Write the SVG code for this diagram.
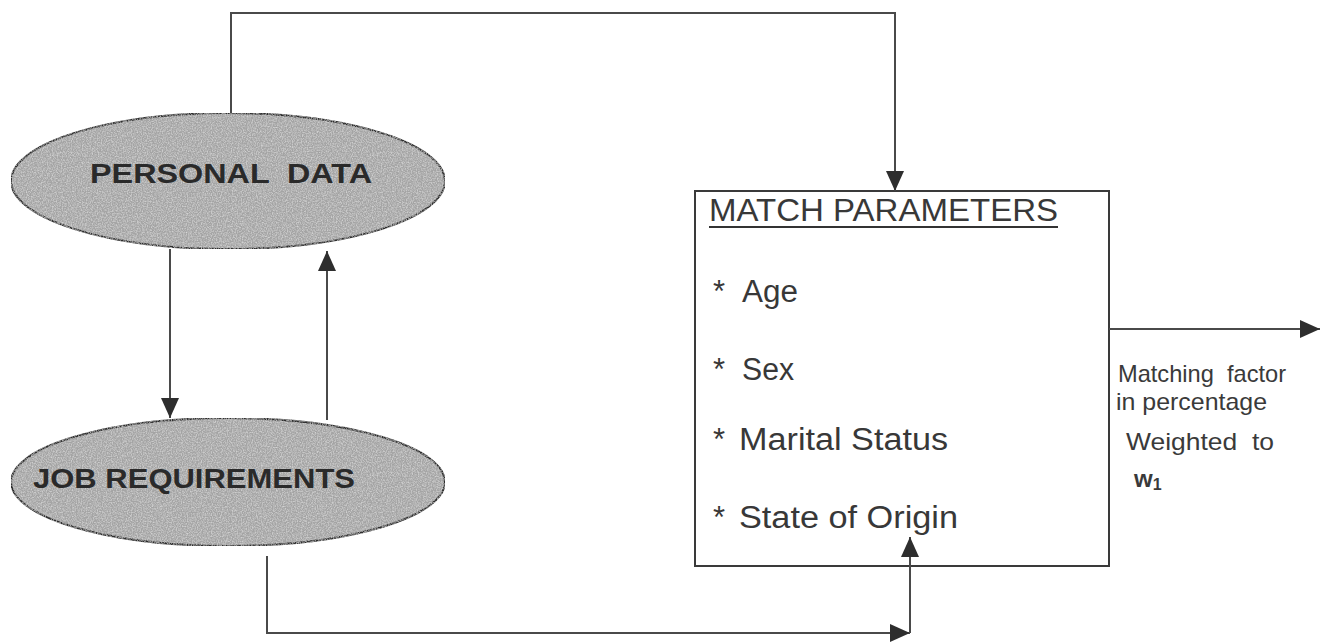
<svg xmlns="http://www.w3.org/2000/svg" width="1321" height="643" viewBox="0 0 1321 643">
  <defs>
    <marker id="arrowBig" viewBox="0 0 10 10" refX="10" refY="5" markerWidth="20" markerHeight="18" markerUnits="userSpaceOnUse" orient="auto" preserveAspectRatio="none">
      <path d="M0,0 L10,5 L0,10 Z" fill="#2e2e2e"/>
    </marker>
    <filter id="grain" x="0" y="0" width="1" height="1">
      <feTurbulence type="fractalNoise" baseFrequency="0.8" numOctaves="2" seed="3" result="n"/>
      <feColorMatrix in="n" type="matrix" values="0 0 0 0 0.85  0 0 0 0 0.85  0 0 0 0 0.85  1.2 0 0 0 -0.45" result="g"/>
      <feComposite in="g" in2="SourceGraphic" operator="in" result="gi"/>
      <feMerge><feMergeNode in="SourceGraphic"/><feMergeNode in="gi"/></feMerge>
    </filter>
    <style>
      .oval { fill: #a4a4a4; stroke: #2f2f2f; stroke-width: 2; }
      .oval-label { font-family: "Liberation Sans", Arial, sans-serif; font-weight: bold; font-size: 27px; fill: #2a2a2a; }
      .box { fill: #ffffff; stroke: #3a3a3a; stroke-width: 2; }
      .item { font-family: "Liberation Sans", Arial, sans-serif; font-size: 31px; fill: #383838; }
      .note { font-family: "Liberation Sans", Arial, sans-serif; font-size: 24px; fill: #3a3a3a; }
      .wire { fill: none; stroke: #4a4a4a; stroke-width: 2; }
    </style>
  </defs>

  <rect width="1321" height="643" fill="#ffffff"/>

  <!-- personal data node -->
  <g id="personal-data">
    <ellipse class="oval" cx="228" cy="181" rx="217" ry="68" filter="url(#grain)"/>
    <text class="oval-label" x="90" y="183" textLength="282" lengthAdjust="spacingAndGlyphs" xml:space="preserve">PERSONAL  DATA</text>
  </g>

  <!-- job requirements node -->
  <g id="job-requirements">
    <ellipse class="oval" cx="228" cy="482" rx="217" ry="64" filter="url(#grain)"/>
    <text class="oval-label" x="33" y="488" textLength="322" lengthAdjust="spacingAndGlyphs">JOB REQUIREMENTS</text>
  </g>

  <!-- match parameters node -->
  <g id="match-parameters">
    <rect class="box" x="695" y="191" width="414" height="375"/>
    <text class="item" x="709" y="221" font-size="26" textLength="349" lengthAdjust="spacingAndGlyphs">MATCH PARAMETERS</text>
    <line x1="709" y1="227" x2="1058" y2="227" stroke="#333333" stroke-width="2"/>
    <text class="item" x="713" y="302">* <tspan x="742" textLength="56" lengthAdjust="spacingAndGlyphs">Age</tspan></text>
    <text class="item" x="713" y="380">* <tspan x="742" textLength="52" lengthAdjust="spacingAndGlyphs">Sex</tspan></text>
    <text class="item" x="713" y="450">* <tspan x="739" textLength="209" lengthAdjust="spacingAndGlyphs">Marital Status</tspan></text>
    <text class="item" x="713" y="528">* <tspan x="739" textLength="219" lengthAdjust="spacingAndGlyphs">State of Origin</tspan></text>
  </g>

  <!-- output label -->
  <g id="output-label">
    <text class="note" x="1118" y="382" textLength="168" lengthAdjust="spacingAndGlyphs" xml:space="preserve">Matching  factor</text>
    <text class="note" x="1116" y="410" textLength="151" lengthAdjust="spacingAndGlyphs">in percentage</text>
    <text class="note" x="1126" y="450" textLength="148" lengthAdjust="spacingAndGlyphs" xml:space="preserve">Weighted  to</text>
    <text class="note" x="1134" y="487" font-weight="bold" font-size="26">w<tspan font-size="16" dy="3">1</tspan></text>
  </g>

  <!-- connectors -->
  <g id="connectors">
    <path class="wire" d="M231,113 V13 H895 V191" marker-end="url(#arrowBig)"/>
    <path class="wire" d="M170,249 V418" marker-end="url(#arrowBig)"/>
    <path class="wire" d="M327,420 V251" marker-end="url(#arrowBig)"/>
    <path class="wire" d="M267,556 V633 H910" marker-end="url(#arrowBig)"/>
    <path class="wire" d="M910,633 V537" marker-end="url(#arrowBig)"/>
    <path class="wire" d="M1109,329 H1320" marker-end="url(#arrowBig)"/>
  </g>
</svg>
